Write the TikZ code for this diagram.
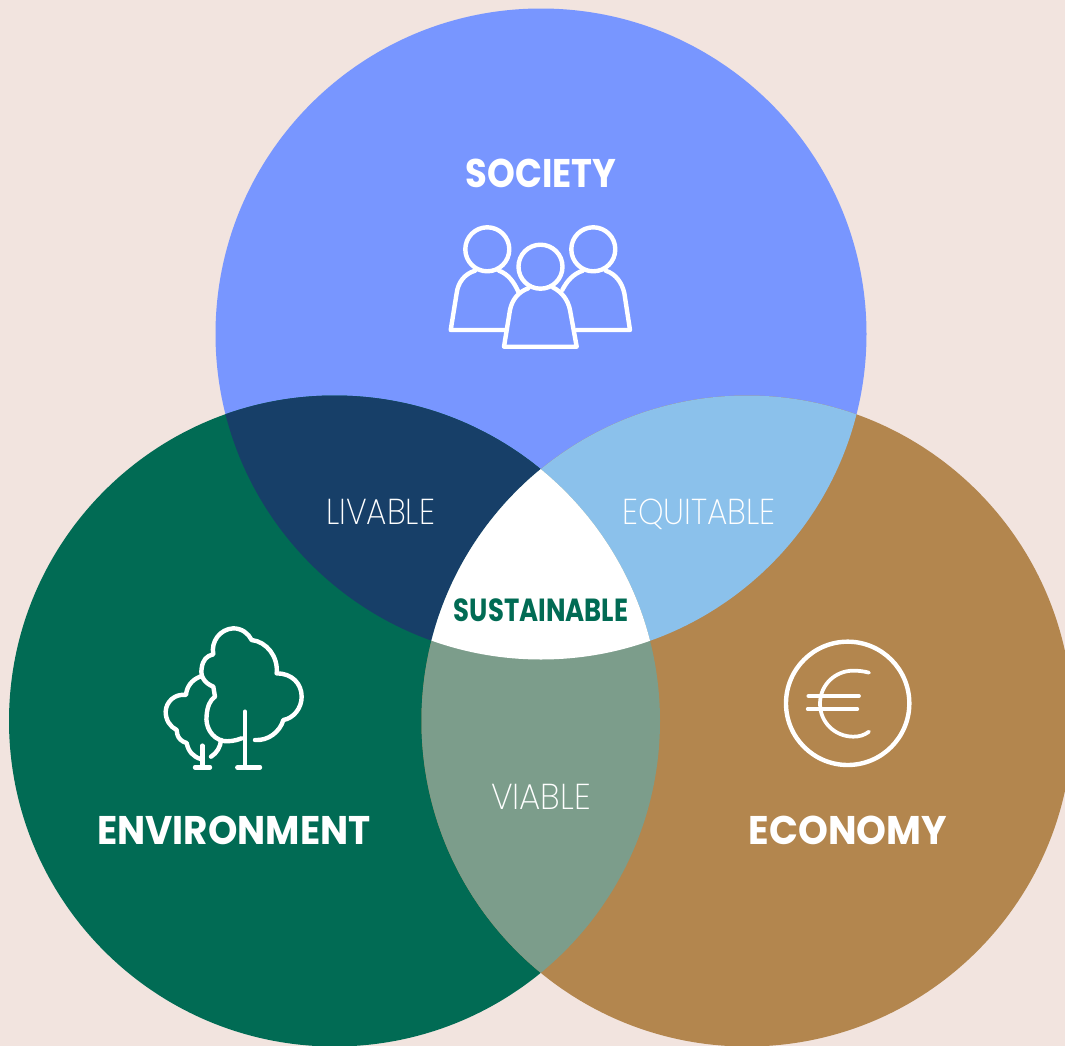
\documentclass[tikz,border=0pt]{standalone}
\usepackage{graphicx}
\usepackage{fontspec}
\setmainfont{Poppins}
\newfontfamily\thinfont{Poppins ExtraLight}
\newcommand{\squeeze}[2]{\scalebox{#1}[1]{#2}}
\definecolor{bgrose}{HTML}{F2E4DF}
\definecolor{societyblue}{HTML}{7896FF}
\definecolor{envgreen}{HTML}{016B54}
\definecolor{econbrown}{HTML}{B3864E}
\definecolor{livablenavy}{HTML}{173F68}
\definecolor{equitablesky}{HTML}{8BC1EB}
\definecolor{viablesage}{HTML}{7C9D8B}
\tikzset{
  pillar/.style={text=white, font=\bfseries\fontsize{30}{30}\selectfont, inner sep=0pt},
  overlap/.style={text=white, font=\thinfont\fontsize{27}{27}\selectfont, inner sep=0pt, anchor=base},
  icon/.style={draw=white, line width=3.3pt, line cap=round, line join=round}
}
\begin{document}
\begin{tikzpicture}[x=0.75pt,y=-0.75pt]
    \pgfmathsetmacro{\rad}{325.5}

    \clip (0,0) rectangle (1065,1046);
    \fill[bgrose] (0,0) rectangle (1065,1046);

    \coordinate (S) at (541,334);
    \coordinate (L) at (334.5,721);
    \coordinate (R) at (747,721);

    \fill[societyblue] (S) circle (\rad);
    \fill[envgreen] (L) circle (\rad);
    \fill[econbrown] (R) circle (\rad);

    % overlaps
    \begin{scope}
      \clip (S) circle (\rad);
      \fill[livablenavy] (L) circle (\rad);
      \fill[equitablesky] (R) circle (\rad);
    \end{scope}
    \begin{scope}
      \clip (L) circle (\rad);
      \fill[viablesage] (R) circle (\rad);
      \clip (R) circle (\rad);
      \fill[white] (S) circle (\rad);
    \end{scope}

    \node[pillar] (society) at (541,173) {\squeeze{.885}{SOCIETY}};
    \node[pillar] (environment) at (234,830) {\squeeze{.935}{ENVIRONMENT}};
    \node[pillar] (economy) at (848,830) {\squeeze{.95}{ECONOMY}};
    \node[overlap] (livable) at (380.5,524.5) {\squeeze{.9}{LIVABLE}};
    \node[overlap] (equitable) at (699,524.5) {\squeeze{.9}{EQUITABLE}};
    \node[overlap] (viable) at (541,809.5) {\squeeze{.94}{VIABLE}};
    \node[pillar, text=envgreen, font=\bfseries\fontsize{24}{24}\selectfont] (sustainable) at (541,610) {\squeeze{.81}{SUSTAINABLE}};

    % people
    \draw[icon] (487.3,249.3) circle (22);
    \draw[icon] (593.3,249.3) circle (22);
    \draw[icon] (540.5,266.7) circle (22);
    \draw[icon] (475,270.7) .. controls (464,274) and (458,283) .. (456.7,293) -- (450.7,330) -- (505,330);
    \draw[icon] (499,270.7) .. controls (508,274) and (514,282) .. (518.3,291.7);
    \draw[icon] (605.7,270.7) .. controls (616,274) and (622,283) .. (624.3,293) -- (630,330) -- (576.7,330);
    \draw[icon] (582.7,270.7) .. controls (573,274) and (567,281) .. (562.3,290);
    \draw[icon] (528.3,288.3) .. controls (518,292) and (512,300) .. (510,310) -- (504,346.7) -- (576.7,346.7) -- (570,310) .. controls (568,300) and (562,292) .. (552.7,287.3);

    % trees, in 3x crop units
    \begin{scope}[shift={(150,615)},scale=1/3]
      \draw[icon] (275,370) .. controls (255,378) and (235,380) .. (220,378)
        .. controls (185,370) and (165,335) .. (170,300)
        .. controls (172,275) and (180,255) .. (195,245) -- (190,215)
        .. controls (165,205) and (150,185) .. (155,160)
        .. controls (158,135) and (170,122) .. (190,118)
        .. controls (182,80) and (210,42) .. (250,40)
        .. controls (275,40) and (295,55) .. (305,75)
        .. controls (350,80) and (385,125) .. (380,175)
        .. controls (425,175) and (455,205) .. (455,245)
        .. controls (455,280) and (430,310) .. (400,315)
        .. controls (390,350) and (355,378) .. (315,375);
      \draw[icon] (285,290) -- (285,457);
      \draw[icon] (262,457) -- (330,457);
      \draw[icon] (150,185) .. controls (125,195) and (110,215) .. (108,240)
        .. controls (75,235) and (48,260) .. (47,290)
        .. controls (47,315) and (60,335) .. (80,345) -- (82,358)
        .. controls (85,370) and (95,380) .. (110,384)
        .. controls (115,410) and (130,425) .. (152,432);
      \draw[icon] (157,392) -- (157,457);
      \draw[icon] (135,457) -- (180,457);
      \draw[icon] (183,425) .. controls (200,415) and (212,395) .. (213,375);
    \end{scope}

    % euro
    \begin{scope}[shift={(770,630)},scale=1/3]
      \draw[icon] (233,220) circle (185);
      \draw[icon, line width=2.8pt] (297,128) .. controls (282,124) and (268,122) .. (250,122)
        .. controls (195,122) and (150,165) .. (150,221)
        .. controls (150,277) and (195,320) .. (250,320)
        .. controls (268,320) and (282,316) .. (297,305);
      \draw[icon, line width=2.8pt] (115,198) -- (267,198);
      \draw[icon, line width=2.8pt] (113,237) -- (262,237);
    \end{scope}
\end{tikzpicture}
\end{document}
